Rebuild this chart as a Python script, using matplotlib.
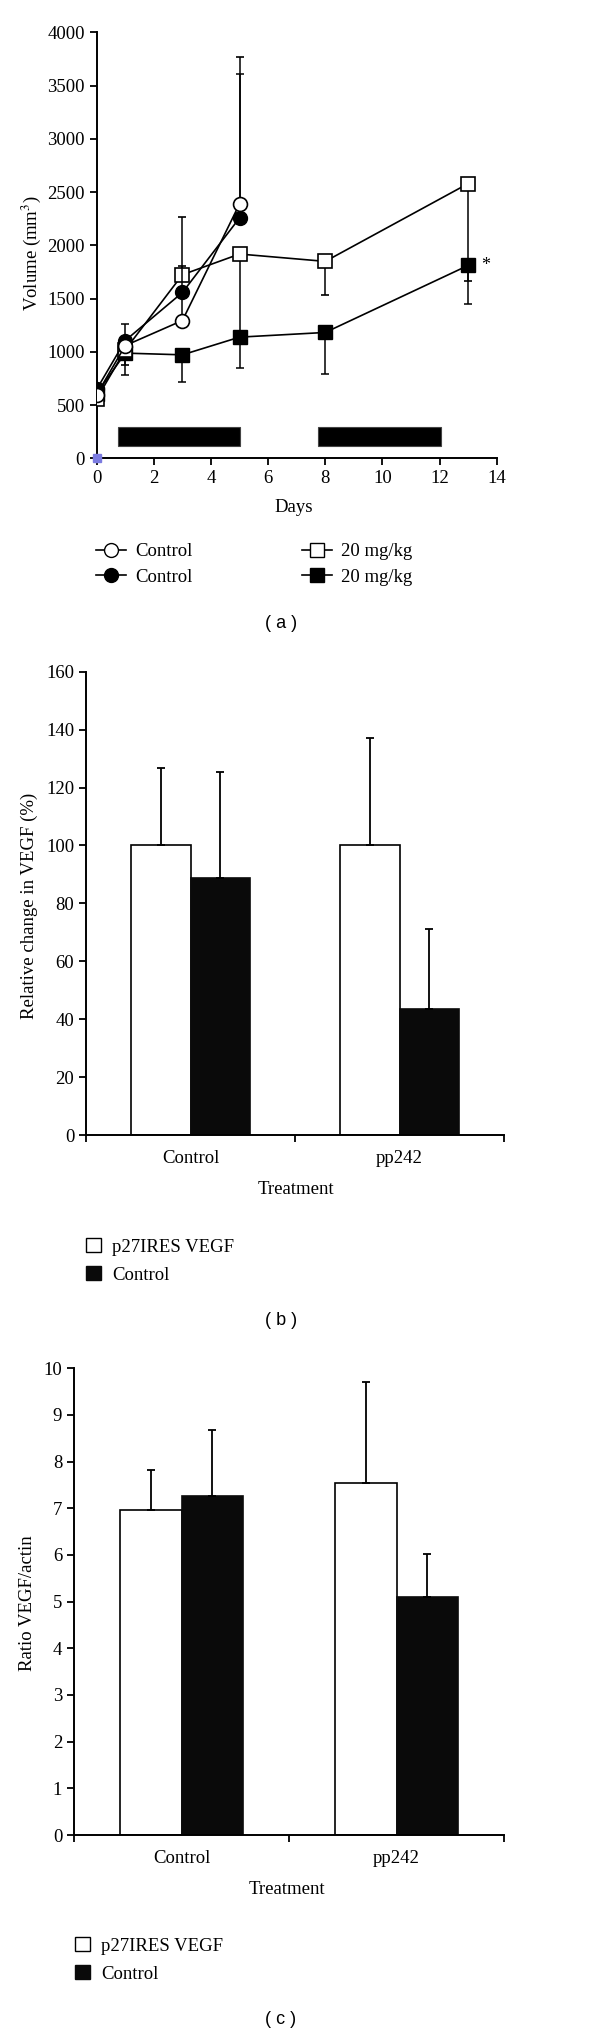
import numpy as np
import matplotlib
matplotlib.use("Agg")
import matplotlib.pyplot as plt
from matplotlib.lines import Line2D
from matplotlib.patches import Patch

# panel (a): tumour volume over time
days_ctrl = [0, 1, 3, 5]
ctrl_open = [600, 1060, 1295, 2390]
ctrl_open_hi = [0, 0, 508, 1378]
ctrl_filled = [650, 1107, 1558, 2258]
ctrl_filled_hi = [0, 157, 0, 1347]

days_trt = [0, 1, 3, 5, 8, 13]
trt_open = [560, 1020, 1725, 1919, 1850, 2580]
trt_open_lo = [0, 140, 0, 780, 320, 918]
trt_open_hi = [0, 0, 539, 0, 0, 0]
trt_filled = [610, 989, 973, 1139, 1183, 1812]
trt_filled_lo = [0, 204, 251, 291, 392, 362]

dosing_start = [0.76, 7.73]
dosing_end = [5.0, 12.05]
dosing_low, dosing_high = 117, 299

# panels (b) and (c)
groups = ["Control", "pp242"]
vegf_change = [100, 100]
vegf_change_err = [26.6, 37]
vegf_change_ctrl = [88.7, 43.5]
vegf_change_ctrl_err = [36.5, 27.5]

ratio = [6.96, 7.55]
ratio_err = [0.86, 2.15]
ratio_ctrl = [7.27, 5.11]
ratio_ctrl_err = [1.41, 0.91]

W, H = 600, 2035
FS = 13


def fx(px):
    return px / W


def fy(px):
    return 1 - px / H


def style_axis(ax):
    for s in ["top", "right"]:
        ax.spines[s].set_visible(False)
    for s in ["left", "bottom"]:
        ax.spines[s].set_linewidth(1.4)
    ax.tick_params(direction="out", length=5, width=1.3, labelsize=FS + 0.5)


def bar_panel(fig, rect, vals, errs, vals2, errs2, ymax, ystep, ylabel,
              ylab_x, ylab_y, treat_y, treat_x, leg_x, leg_y):
    ax = fig.add_axes(rect)
    style_axis(ax)
    x = np.arange(len(groups)) + 0.5
    w = 0.287
    ax.bar(x - w / 2, vals, w, color="white", edgecolor="black", linewidth=1.2)
    ax.bar(x + w / 2, vals2, w, color="#0a0a0a", edgecolor="#0a0a0a", linewidth=1.2)
    ax.errorbar(x - w / 2, vals, yerr=[np.zeros(2), errs], fmt="none",
                ecolor="black", elinewidth=1.3, capsize=3, capthick=1.3)
    ax.errorbar(x + w / 2, vals2, yerr=[np.zeros(2), errs2], fmt="none",
                ecolor="black", elinewidth=1.3, capsize=3, capthick=1.3)
    ax.set_xlim(0, 2)
    ax.set_ylim(0, ymax)
    ax.set_yticks(np.arange(0, ymax + 0.01, ystep))
    ax.set_xticks([0, 1, 2])
    ax.set_xticklabels([])
    ax.set_xticks(x, minor=True)
    ax.set_xticklabels(groups, minor=True)
    ax.tick_params(axis="x", which="minor", length=0, pad=11, labelsize=FS + 0.5)
    fig.text(ylab_x, ylab_y, ylabel, rotation=90, ha="center", va="center", fontsize=FS + 0.5)
    fig.text(treat_x, treat_y, "Treatment", ha="center", va="center", fontsize=FS + 0.5)
    handles = [Patch(facecolor="white", edgecolor="black", linewidth=1.0),
               Patch(facecolor="#0a0a0a", edgecolor="#0a0a0a")]
    fig.legend(handles, ["p27IRES VEGF", "Control"], loc="upper left",
               bbox_to_anchor=(leg_x, leg_y), frameon=False, fontsize=FS + 0.5,
               handlelength=0.8, handleheight=0.8, handletextpad=0.6,
               labelspacing=0.55, borderpad=0, borderaxespad=0)
    return ax


def main():
    plt.rcParams["font.family"] = ["Liberation Serif", "DejaVu Serif"]
    plt.rcParams["mathtext.fontset"] = "stix"
    fig = plt.figure(figsize=(W / 100, H / 100), dpi=100)

    # ---- (a)
    ax = fig.add_axes([fx(96.7), fy(458.5), 400 / W, 426.2 / H])
    style_axis(ax)
    for s, e in zip(dosing_start, dosing_end):
        ax.bar(s, dosing_high - dosing_low, width=e - s, bottom=dosing_low,
               align="edge", color="black", edgecolor="#444444", linewidth=0.8)

    ekw = dict(ecolor="black", elinewidth=1.1, capsize=3, capthick=1.1)
    ax.errorbar(days_trt, trt_filled, yerr=[trt_filled_lo, np.zeros(6)],
                color="black", lw=1.2, marker="s", ms=10.5, mfc="black",
                mec="black", zorder=3, **ekw)
    ax.errorbar(days_trt, trt_open, yerr=[trt_open_lo, trt_open_hi],
                color="black", lw=1.2, marker="s", ms=10.5, mfc="white",
                mec="black", mew=1.2, zorder=4, **ekw)
    ax.errorbar(days_ctrl, ctrl_filled, yerr=[np.zeros(4), ctrl_filled_hi],
                color="black", lw=1.2, marker="o", ms=10, mfc="black",
                mec="black", zorder=5, **ekw)
    ax.errorbar(days_ctrl, ctrl_open, yerr=[np.zeros(4), ctrl_open_hi],
                color="black", lw=1.2, marker="o", ms=10, mfc="white",
                mec="black", mew=1.2, zorder=6, **ekw)
    ax.plot([0], [0], marker="s", ms=6, color="#7b7be0", clip_on=False, zorder=7)
    ax.text(13.6, trt_filled[-1], "*", fontsize=FS, ha="center", va="center")

    ax.set_xlim(0, 14)
    ax.set_ylim(0, 4000)
    ax.set_xticks(range(0, 15, 2))
    ax.set_yticks(range(0, 4001, 500))
    fig.text(fx(31), fy(253), "Volume (mm$^3$)", rotation=90, ha="center",
             va="center", fontsize=FS + 0.5)
    fig.text(fx(294), fy(508), "Days", ha="center", va="center", fontsize=FS + 0.5)

    handles = [
        Line2D([], [], color="black", lw=1.2, marker="o", ms=10, mfc="white", mec="black"),
        Line2D([], [], color="black", lw=1.2, marker="o", ms=10, mfc="black", mec="black"),
        Line2D([], [], color="black", lw=1.2, marker="s", ms=10.5, mfc="white", mec="black"),
        Line2D([], [], color="black", lw=1.2, marker="s", ms=10.5, mfc="black", mec="black"),
    ]
    fig.legend(handles, ["Control", "Control", "20 mg/kg", "20 mg/kg"], ncol=2,
               loc="upper left", bbox_to_anchor=(fx(96), fy(543)), frameon=False,
               fontsize=FS + 0.5, handlelength=1.6, handletextpad=0.5, columnspacing=5.8,
               labelspacing=0.45, borderpad=0, borderaxespad=0)
    fig.text(fx(281), fy(623), "( a )", ha="center", va="center", fontsize=13,
             family="Liberation Sans")

    # ---- (b)
    bar_panel(fig, [fx(86), fy(1135), 418 / W, 463.3 / H], vegf_change, vegf_change_err,
              vegf_change_ctrl, vegf_change_ctrl_err, 160, 20,
              "Relative change in VEGF (%)", fx(29), fy(906), fy(1190), fx(296),
              fx(86), fy(1238))
    fig.text(fx(281), fy(1320), "( b )", ha="center", va="center", fontsize=13,
             family="Liberation Sans")

    # ---- (c)
    bar_panel(fig, [fx(74), fy(1835), 430 / W, 466.7 / H], ratio, ratio_err,
              ratio_ctrl, ratio_ctrl_err, 10, 1,
              "Ratio VEGF/actin", fx(28), fy(1603), fy(1889), fx(287),
              fx(75), fy(1937))
    fig.text(fx(281), fy(2019), "( c )", ha="center", va="center", fontsize=13,
             family="Liberation Sans")

    fig.savefig("out.png", dpi=100, facecolor="white")


if __name__ == "__main__":
    main()
